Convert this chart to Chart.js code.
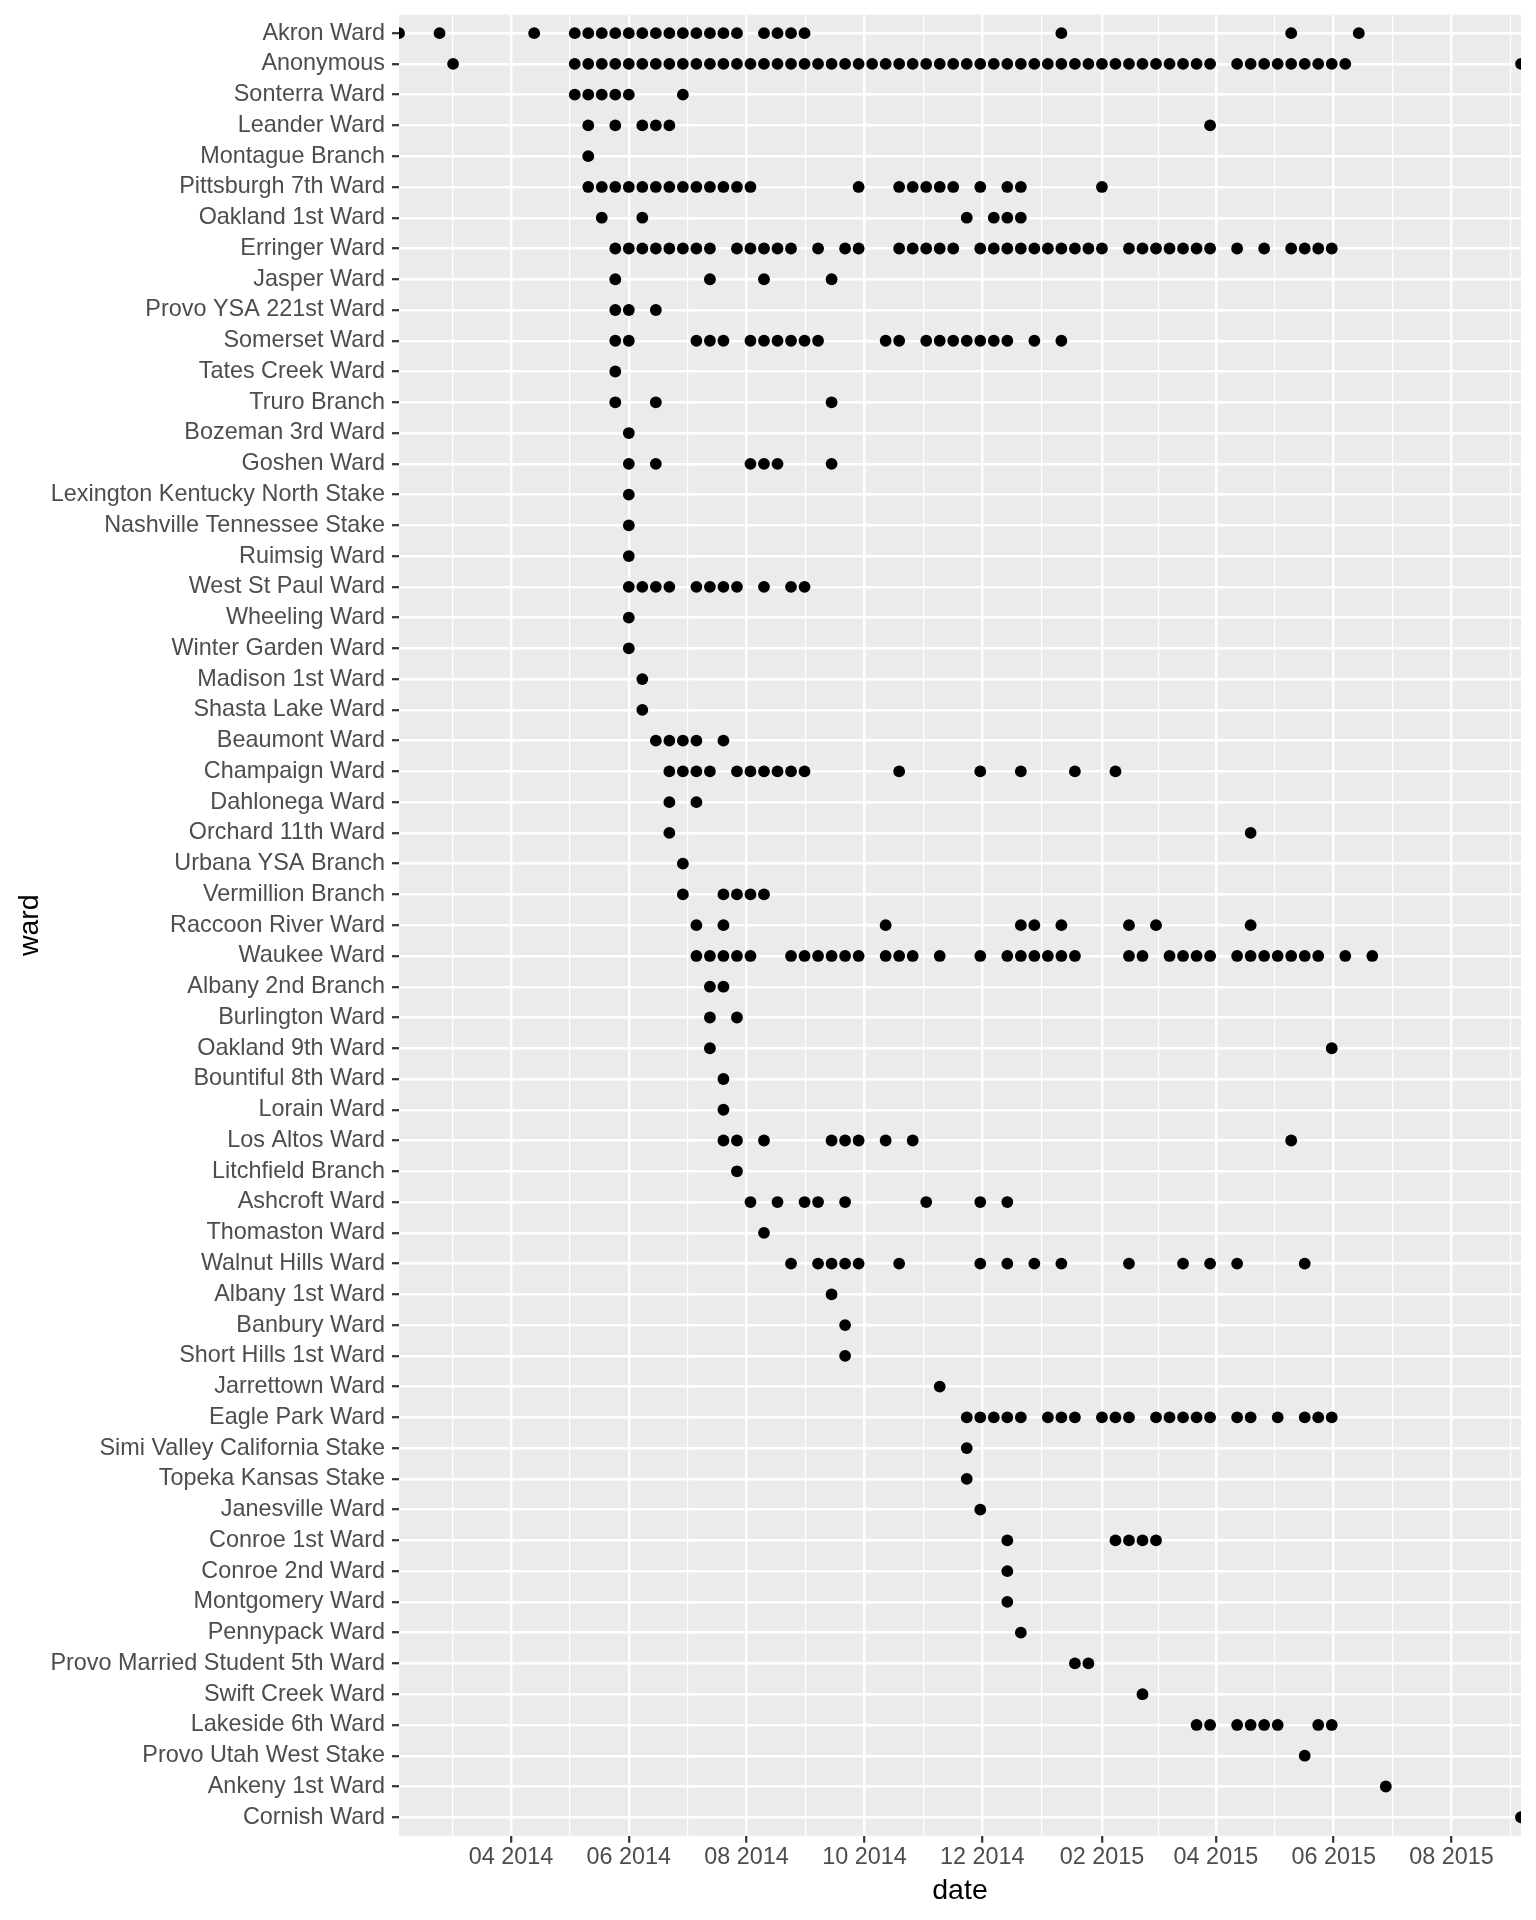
<!DOCTYPE html>
<html>
<head>
<meta charset="utf-8">
<script src="https://cdn.jsdelivr.net/npm/chart.js@4.4.1/dist/chart.umd.min.js"></script>
<style>
  html, body { margin: 0; padding: 0; background: #ffffff; }
  #wrap { width: 1536px; height: 1920px; }
</style>
</head>
<body>
<div id="wrap"><canvas id="c" width="1536" height="1920"></canvas></div>
<script>
// ---- data ----
const wards = [
  'Akron Ward', 'Anonymous', 'Sonterra Ward', 'Leander Ward', 'Montague Branch',
  'Pittsburgh 7th Ward', 'Oakland 1st Ward', 'Erringer Ward', 'Jasper Ward', 'Provo YSA 221st Ward',
  'Somerset Ward', 'Tates Creek Ward', 'Truro Branch', 'Bozeman 3rd Ward', 'Goshen Ward',
  'Lexington Kentucky North Stake', 'Nashville Tennessee Stake', 'Ruimsig Ward', 'West St Paul Ward', 'Wheeling Ward',
  'Winter Garden Ward', 'Madison 1st Ward', 'Shasta Lake Ward', 'Beaumont Ward', 'Champaign Ward',
  'Dahlonega Ward', 'Orchard 11th Ward', 'Urbana YSA Branch', 'Vermillion Branch', 'Raccoon River Ward',
  'Waukee Ward', 'Albany 2nd Branch', 'Burlington Ward', 'Oakland 9th Ward', 'Bountiful 8th Ward',
  'Lorain Ward', 'Los Altos Ward', 'Litchfield Branch', 'Ashcroft Ward', 'Thomaston Ward',
  'Walnut Hills Ward', 'Albany 1st Ward', 'Banbury Ward', 'Short Hills 1st Ward', 'Jarrettown Ward',
  'Eagle Park Ward', 'Simi Valley California Stake', 'Topeka Kansas Stake', 'Janesville Ward', 'Conroe 1st Ward',
  'Conroe 2nd Ward', 'Montgomery Ward', 'Pennypack Ward', 'Provo Married Student 5th Ward', 'Swift Creek Ward',
  'Lakeside 6th Ward', 'Provo Utah West Stake', 'Ankeny 1st Ward', 'Cornish Ward'
];

// weeks (Sundays) counted from firstWeekDate, one list per ward (same order as wards)
const firstWeekDate = '2014-02-02';
const lastWeekDate = '2015-09-06';
const visitWeeks = [
  [0,3,10,13,14,15,16,17,18,19,20,21,22,23,24,25,27,28,29,30,49,66,71],
  [4,13,14,15,16,17,18,19,20,21,22,23,24,25,26,27,28,29,30,31,32,33,34,35,36,37,38,39,40,41,42,43,44,45,46,47,48,49,50,51,52,53,54,55,56,57,58,59,60,62,63,64,65,66,67,68,69,70,83],
  [13,14,15,16,17,21],
  [14,16,18,19,20,60],
  [14],
  [14,15,16,17,18,19,20,21,22,23,24,25,26,34,37,38,39,40,41,43,45,46,52],
  [15,18,42,44,45,46],
  [16,17,18,19,20,21,22,23,25,26,27,28,29,31,33,34,37,38,39,40,41,43,44,45,46,47,48,49,50,51,52,54,55,56,57,58,59,60,62,64,66,67,68,69],
  [16,23,27,32],
  [16,17,19],
  [16,17,22,23,24,26,27,28,29,30,31,36,37,39,40,41,42,43,44,45,47,49],
  [16],
  [16,19,32],
  [17],
  [17,19,26,27,28,32],
  [17],
  [17],
  [17],
  [17,18,19,20,22,23,24,25,27,29,30],
  [17],
  [17],
  [18],
  [18],
  [19,20,21,22,24],
  [20,21,22,23,25,26,27,28,29,30,37,43,46,50,53],
  [20,22],
  [20,63],
  [21],
  [21,24,25,26,27],
  [22,24,36,46,47,49,54,56,63],
  [22,23,24,25,26,29,30,31,32,33,34,36,37,38,40,43,45,46,47,48,49,50,54,55,57,58,59,60,62,63,64,65,66,67,68,70,72],
  [23,24],
  [23,25],
  [23,69],
  [24],
  [24],
  [24,25,27,32,33,34,36,38,66],
  [25],
  [26,28,30,31,33,39,43,45],
  [27],
  [29,31,32,33,34,37,43,45,47,49,54,58,60,62,67],
  [32],
  [33],
  [33],
  [40],
  [42,43,44,45,46,48,49,50,52,53,54,56,57,58,59,60,62,63,65,67,68,69],
  [42],
  [42],
  [43],
  [45,53,54,55,56],
  [45],
  [45],
  [46],
  [50,51],
  [55],
  [59,60,62,63,64,65,68,69],
  [67],
  [73],
  [83]
];

const majorTickDates = ['2014-04-01','2014-06-01','2014-08-01','2014-10-01','2014-12-01','2015-02-01','2015-04-01','2015-06-01','2015-08-01'];
const majorTickLabels = ['04 2014','06 2014','08 2014','10 2014','12 2014','02 2015','04 2015','06 2015','08 2015'];

// ---- build ----
const DAY = 86400000;
const t0 = Date.parse(firstWeekDate);
const t1 = Date.parse(lastWeekDate);
const points = [];
wards.forEach((name, i) => {
  visitWeeks[i].forEach(k => points.push({ x: t0 + k * 7 * DAY, y: i }));
});

const majorVals = majorTickDates.map(d => Date.parse(d));
const minorVals = [];
minorVals.push(majorVals[0] - (majorVals[1] - majorVals[0]) / 2);
for (let i = 0; i < majorVals.length - 1; i++) minorVals.push((majorVals[i] + majorVals[i + 1]) / 2);
minorVals.push(majorVals[majorVals.length - 1] + (majorVals[majorVals.length - 1] - majorVals[majorVals.length - 2]) / 2);

const FONT = "'Liberation Sans', Arial, Helvetica, sans-serif";
Chart.defaults.font.family = FONT;

const panelBg = {
  id: 'panelBg',
  beforeDraw(chart) {
    const { ctx, chartArea: a } = chart;
    ctx.save();
    ctx.fillStyle = '#EBEBEB';
    ctx.fillRect(a.left, a.top, a.right - a.left, a.bottom - a.top);
    ctx.restore();
  }
};

const PANEL_LEFT = 399, PANEL_TOP = 14.7, PANEL_RIGHT = 1521, PANEL_BOTTOM = 1835.7;
const W = 1536, H = 1920;

function zeroPad(s) { s.paddingLeft = 0; s.paddingRight = 0; s.paddingTop = 0; s.paddingBottom = 0; }

new Chart(document.getElementById('c'), {
  type: 'scatter',
  data: {
    datasets: [{
      data: points,
      pointRadius: 5.9,
      pointHoverRadius: 5.9,
      backgroundColor: '#000000',
      borderWidth: 0,
      clip: 0
    }]
  },
  plugins: [panelBg],
  options: {
    responsive: false,
    animation: false,
    events: [],
    layout: { padding: { left: 0, top: PANEL_TOP, right: W - PANEL_RIGHT, bottom: 0 } },
    plugins: { legend: { display: false }, tooltip: { enabled: false } },
    scales: {
      x: {
        type: 'linear', axis: 'x', position: 'bottom',
        min: t0, max: t1, bounds: 'data',
        afterBuildTicks: s => { s.ticks = majorVals.map(v => ({ value: v })); },
        afterFit: s => { s.height = H - PANEL_BOTTOM; zeroPad(s); },
        grid: { color: '#FFFFFF', lineWidth: 2.4, drawTicks: true, tickLength: 7, tickColor: '#333333', tickWidth: 2.2 },
        border: { display: false },
        ticks: {
          autoSkip: false, maxRotation: 0, minRotation: 0, padding: 1,
          color: '#4D4D4D', font: { size: 23.4 },
          callback: (v, i) => majorTickLabels[i]
        },
        title: { display: true, text: 'date', color: '#000000', font: { size: 28.5 }, padding: { top: 0, bottom: 12 } }
      },
      xMinor: {
        type: 'linear', axis: 'x', position: 'bottom',
        min: t0, max: t1, bounds: 'data',
        afterBuildTicks: s => { s.ticks = minorVals.map(v => ({ value: v })); },
        afterFit: s => { s.height = 0; zeroPad(s); },
        grid: { color: '#FFFFFF', lineWidth: 1.2, drawTicks: false },
        border: { display: false },
        ticks: { display: false }
      },
      y: {
        type: 'linear', axis: 'y', position: 'left', reverse: true,
        min: -0.6, max: wards.length - 1 + 0.6, bounds: 'data',
        afterBuildTicks: s => { s.ticks = wards.map((n, i) => ({ value: i })); },
        afterFit: s => { s.width = PANEL_LEFT; zeroPad(s); },
        grid: { color: '#FFFFFF', lineWidth: 2.4, drawTicks: true, tickLength: 7, tickColor: '#333333', tickWidth: 2.2 },
        border: { display: false },
        ticks: {
          autoSkip: false, padding: 7,
          color: '#4D4D4D', font: { size: 23.4 },
          callback: (v) => wards[v]
        },
        title: { display: true, text: 'ward', color: '#000000', font: { size: 28.5 }, padding: { top: 13.4, bottom: 0 } }
      }
    }
  }
});
</script>
</body>
</html>
